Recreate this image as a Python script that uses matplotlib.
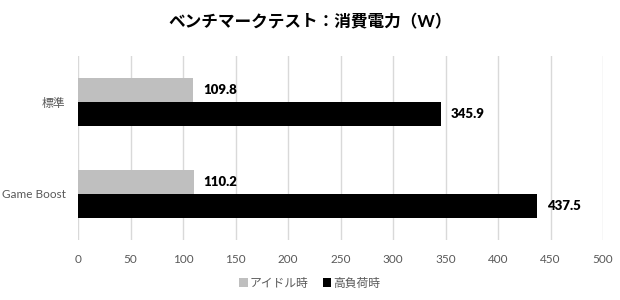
import numpy as np
import matplotlib
matplotlib.use("Agg")
import matplotlib.pyplot as plt

plt.rcParams['font.family'] = ['Lato', 'Noto Sans CJK JP', 'DejaVu Sans']

categories = ["標準", "Game Boost"]
idle_values = [109.8, 110.2]
load_values = [345.9, 437.5]
series_names = ["アイドル時", "高負荷時"]
x_ticks = [0, 50, 100, 150, 200, 250, 300, 350, 400, 450, 500]

fig = plt.figure(figsize=(6.2, 3.0), dpi=100)
ax = fig.add_axes([78 / 620, 1 - 240 / 300, (603 - 78) / 620, (240 - 56) / 300])

pos = np.arange(len(categories))
h = 0.26
idle_bars = ax.barh(pos - h / 2, idle_values, height=h, color="#bfbfbf", label=series_names[0])
load_bars = ax.barh(pos + h / 2, load_values, height=h, color="#000000", label=series_names[1])

# value labels to the right of each bar
for bars in (idle_bars, load_bars):
    for b in bars:
        ax.annotate(f"{b.get_width():.1f}", (b.get_width(), b.get_y() + b.get_height() / 2),
                    xytext=(7, 0), textcoords="offset points", va="center", ha="left",
                    fontsize=9.5, fontweight="heavy", color="black")

ax.set_xlim(0, 500)
ax.set_ylim(-0.5, 1.5)
ax.invert_yaxis()
ax.set_xticks(x_ticks)
ax.set_yticks(pos)
ax.set_yticklabels(categories)
ax.tick_params(axis="both", length=0, labelsize=8.5, colors="#595959")
ax.tick_params(axis="x", pad=10)
ax.tick_params(axis="y", pad=9)
ax.grid(axis="x", color="#d9d9d9", linewidth=1)
ax.set_axisbelow(True)
for s in ax.spines.values():
    s.set_visible(False)

fig.text(0.5, 1 - 22 / 300, "ベンチマークテスト：消費電力（W）", ha="center", va="center",
         fontsize=12, fontweight="bold", color="black")

fig.legend(handles=[idle_bars, load_bars], labels=series_names, loc="center",
           bbox_to_anchor=(0.5, 1 - 283 / 300), ncol=2, frameon=False, fontsize=8.5,
           labelcolor="#595959", handlelength=0.7, handleheight=0.7, handletextpad=0.2,
           columnspacing=1.2)

fig.savefig("out.png", dpi=100)
